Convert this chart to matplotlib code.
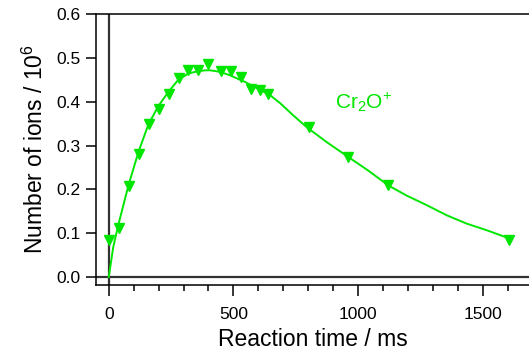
import matplotlib
matplotlib.use('Agg')
import matplotlib.pyplot as plt
from matplotlib.ticker import MultipleLocator

plt.rcParams['font.family'] = ['Liberation Sans', 'DejaVu Sans']
plt.rcParams['mathtext.default'] = 'regular'

# measured points (ms, ions / 1e6)
time_ms = [0, 40, 80, 120, 160, 200, 240, 280, 320, 360, 400, 450, 490,
           530, 570, 605, 640, 805, 961, 1120, 1604]
ions = [0.085, 0.112, 0.208, 0.281, 0.350, 0.384, 0.418, 0.455, 0.472,
        0.473, 0.485, 0.469, 0.470, 0.456, 0.430, 0.426, 0.418, 0.342,
        0.274, 0.209, 0.085]

# fitted curve
fit_t = [0, 18, 38, 79, 119, 159, 199, 239, 279, 319, 346, 366, 386, 406,
         426, 446, 467, 487, 507, 527, 547, 567, 587, 607, 627, 647, 687,
         740, 794, 874, 961, 1041, 1122, 1195, 1276, 1356, 1436, 1516, 1603]
fit_y = [0.0, 0.068, 0.118, 0.209, 0.285, 0.348, 0.390, 0.422, 0.450,
         0.464, 0.468, 0.470, 0.4715, 0.4716, 0.470, 0.468, 0.464, 0.460,
         0.455, 0.450, 0.445, 0.439, 0.433, 0.427, 0.421, 0.415, 0.397,
         0.369, 0.342, 0.308, 0.274, 0.243, 0.209, 0.186, 0.164, 0.141,
         0.122, 0.107, 0.089]

green = '#00e600'

fig = plt.figure(figsize=(5.29, 3.56), dpi=100)
ax = fig.add_axes([0.1815, 0.1994, 0.8185, 0.7613])

ax.axhline(0, color='#333333', lw=1.6, zorder=1)
ax.axvline(0, color='#333333', lw=1.6, zorder=1)

ax.plot(fit_t, fit_y, color=green, lw=1.4, zorder=2)
ax.plot(time_ms, ions, linestyle='none', marker='v', ms=6.5,
        color=green, zorder=3)

ax.text(908, 0.385, 'Cr$_2$O$^{{+}}$', color=green, fontsize=15)

ax.set_xlim(-51, 1686)
ax.set_ylim(-0.018, 0.6)
ax.xaxis.set_major_locator(MultipleLocator(500))
ax.xaxis.set_minor_locator(MultipleLocator(100))
ax.yaxis.set_major_locator(MultipleLocator(0.1))
ax.yaxis.set_major_formatter(plt.FormatStrFormatter('%.1f'))

ax.spines['right'].set_visible(False)
for s in ['left', 'bottom', 'top']:
    ax.spines[s].set_linewidth(1.1)

ax.tick_params(axis='both', direction='out', labelsize=12.5, width=1.1)
ax.tick_params(axis='x', which='major', length=8, pad=8)
ax.tick_params(axis='x', which='minor', length=4.5, width=1.1)
ax.tick_params(axis='y', which='major', length=7, pad=4)

ax.set_xlabel('Reaction time / ms', fontsize=16.5, labelpad=4)
ax.set_ylabel('Number of ions / 10$^6$', fontsize=16.5, labelpad=6)

plt.savefig('out.png', format='png', dpi=100)
